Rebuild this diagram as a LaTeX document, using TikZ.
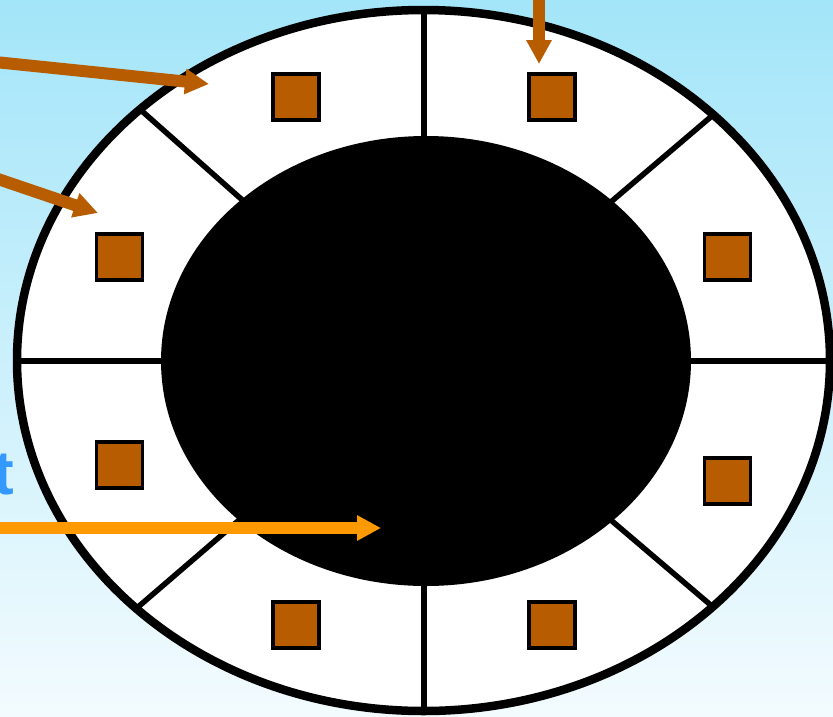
\documentclass[tikz,border=0pt]{standalone}
\usepackage{fontspec}
\setmainfont{Liberation Sans}
\usetikzlibrary{arrows.meta}
\definecolor{sqbrown}{RGB}{184,92,0}
\definecolor{arrorange}{RGB}{255,153,0}
\definecolor{skytop}{RGB}{163,229,249}
\definecolor{skybot}{RGB}{243,251,254}
\definecolor{txtblue}{RGB}{51,153,255}
\tikzset{
  sq/.style={draw=black, line width=3.5pt, fill=sqbrown, minimum size=46pt, inner sep=0pt},
  divider/.style={line width=5.5pt, black},
  brownarrow/.style={draw=sqbrown, line width=12pt, -{Triangle[width=24pt,length=24pt]}},
  orangearrow/.style={draw=arrorange, line width=11.5pt, -{Triangle[width=24pt,length=24pt]}},
}
\begin{document}
\begin{tikzpicture}[x=1pt,y=-1pt]
\useasboundingbox (0,0) rectangle (833,716);
\shade[top color=skytop, bottom color=skybot] (0,0) rectangle (833,716);
\coordinate (c) at (424,361);
\fill[white] (423.5,360.5) ellipse [x radius=406.5pt, y radius=350.5pt];
\begin{scope}
  \clip (423.5,360.5) ellipse [x radius=406.5pt, y radius=350.5pt];
  \draw[divider] (424,-20) -- (424,740);
  \draw[divider] (-20,361) -- (860,361);
  \draw[divider] (c) -- ++(-562,-498);
  \draw[divider] (c) -- ++(-572,492);
  \draw[divider] (c) -- ++(578,-492);
  \draw[divider] (c) -- ++(578,492);
\end{scope}
\fill[black] (426,361) ellipse [x radius=265pt, y radius=225pt];
\draw[line width=8.5pt] (423.5,360.5) ellipse [x radius=406.5pt, y radius=350.5pt];
\node[sq] (s1) at (296,97) {};
\node[sq] (s2) at (552,97) {};
\node[sq] (s3) at (119.5,257) {};
\node[sq] (s4) at (727.5,257) {};
\node[sq] (s5) at (119.5,465) {};
\node[sq] (s6) at (727.5,481) {};
\node[sq] (s7) at (296,625) {};
\node[sq] (s8) at (552,625) {};
\coordinate (a1s) at (-5,62);
\coordinate (a1e) at (209,84);
\coordinate (a2s) at (-5,178);
\coordinate (a2e) at (98,213);
\coordinate (a3s) at (539,-5);
\coordinate (a3e) at (539,64);
\coordinate (a4s) at (-5,528);
\coordinate (a4e) at (381,528);
\draw[brownarrow] (a1s) -- (a1e);
\draw[brownarrow] (a2s) -- (a2e);
\draw[brownarrow] (a3s) -- (a3e);
\draw[orangearrow] (a4s) -- (a4e);
\node[anchor=base east, inner sep=0pt, text=txtblue, font=\fontsize{62}{62}\selectfont\bfseries] (t) at (14,494) {t};
\end{tikzpicture}
\end{document}
